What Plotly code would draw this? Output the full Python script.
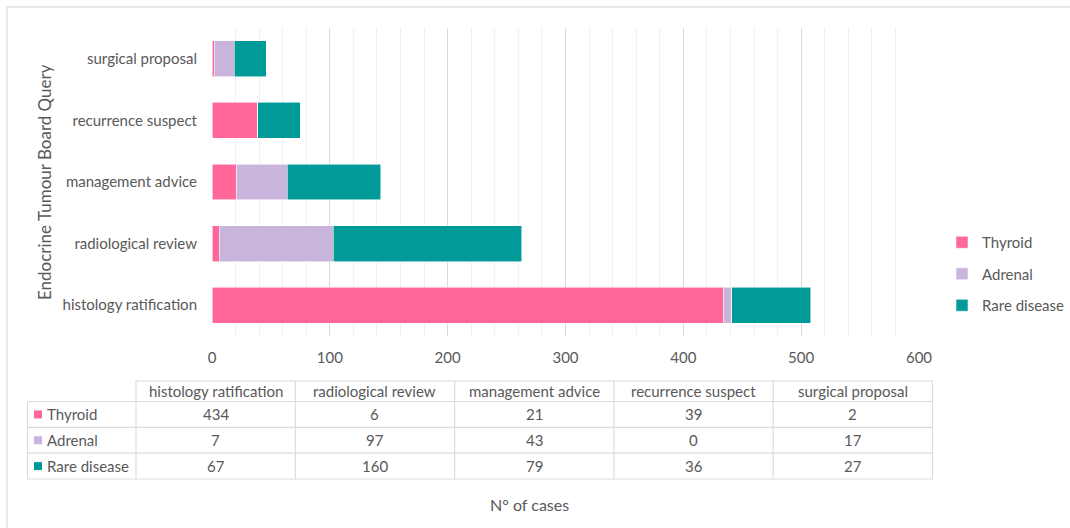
import plotly.graph_objects as go

categories = ["histology ratification", "radiological review", "management advice",
              "recurrence suspect", "surgical proposal"]
series_names = ["Thyroid", "Adrenal", "Rare disease"]
thyroid = [434, 6, 21, 39, 2]
adrenal = [7, 97, 43, 0, 17]
rare_disease = [67, 160, 79, 36, 27]
x_ticks = [0, 100, 200, 300, 400, 500, 600]
colors = ["#ff6699", "#c9b5db", "#009a98"]

W, H = 1070, 528
L, R, T, B = 212, 151, 28, 192
PW, PH = W - L - R, H - T - B
FONT = "Lato"
GRAY = "#595959"
FS = 15

def px(xp):
    return (xp - L) / PW

def py(yp):
    return 1 - (yp - T) / PH

fig = go.Figure()
for name, vals, col in zip(series_names, [thyroid, adrenal, rare_disease], colors):
    fig.add_trace(go.Bar(
        y=categories, x=vals, name=name, orientation="h",
        marker=dict(color=col, line=dict(color="rgba(255,255,255,0.7)", width=0.8)),
        legendgroup=name,
    ))

shapes = []
annotations = []

# outer chart border
shapes.append(dict(type="rect", xref="paper", yref="paper",
                   x0=px(7), x1=px(1080), y0=py(7), y1=py(540),
                   line=dict(color="#e2e2e2", width=1.5), fillcolor="rgba(0,0,0,0)", layer="below"))

# data table
col_edges = [27.5, 136, 295.3, 454.6, 613.9, 773.2, 932.5]
row_edges = [381, 401.5, 427.3, 453.2, 479]
tcol = "#dcdcdc"
for i, yv in enumerate(row_edges):
    x0 = col_edges[1] if i == 0 else col_edges[0]
    shapes.append(dict(type="line", xref="paper", yref="paper",
                       x0=px(x0), x1=px(col_edges[-1]), y0=py(yv), y1=py(yv),
                       line=dict(color=tcol, width=1.2)))
for j, xv in enumerate(col_edges):
    y0 = row_edges[1] if j == 0 else row_edges[0]
    shapes.append(dict(type="line", xref="paper", yref="paper",
                       x0=px(xv), x1=px(xv), y0=py(y0), y1=py(row_edges[-1]),
                       line=dict(color=tcol, width=1.2)))

for j, cat in enumerate(categories):
    cx = (col_edges[j + 1] + col_edges[j + 2]) / 2
    cy = (row_edges[0] + row_edges[1]) / 2
    annotations.append(dict(xref="paper", yref="paper", x=px(cx), y=py(cy), text=cat,
                            showarrow=False, xanchor="center", yanchor="middle",
                            font=dict(family=FONT, size=FS, color=GRAY)))
for i, (name, vals, col) in enumerate(zip(series_names, [thyroid, adrenal, rare_disease], colors)):
    cy = (row_edges[i + 1] + row_edges[i + 2]) / 2
    shapes.append(dict(type="rect", xref="paper", yref="paper",
                       x0=px(34), x1=px(42), y0=py(cy - 4), y1=py(cy + 4),
                       fillcolor=col, line=dict(width=0)))
    annotations.append(dict(xref="paper", yref="paper", x=px(45), y=py(cy), text=name,
                            showarrow=False, xanchor="left", yanchor="middle",
                            font=dict(family=FONT, size=FS, color=GRAY)))
    for j, v in enumerate(vals):
        cx = (col_edges[j + 1] + col_edges[j + 2]) / 2
        annotations.append(dict(xref="paper", yref="paper", x=px(cx), y=py(cy), text=str(v),
                                showarrow=False, xanchor="center", yanchor="middle",
                                font=dict(family=FONT, size=FS, color=GRAY)))

annotations.append(dict(xref="paper", yref="paper", x=px(44), y=py(182),
                        text="Endocrine Tumour Board Query", textangle=-90, showarrow=False,
                        xanchor="center", yanchor="middle",
                        font=dict(family=FONT, size=17, color=GRAY)))
annotations.append(dict(xref="paper", yref="paper", x=px(529), y=py(504),
                        text="N° of cases", showarrow=False,
                        xanchor="center", yanchor="middle",
                        font=dict(family=FONT, size=16, color=GRAY)))

fig.update_layout(
    width=W, height=H,
    margin=dict(l=L, r=R, t=T, b=B, autoexpand=False),
    barmode="stack", bargap=0.416,
    paper_bgcolor="white", plot_bgcolor="white",
    font=dict(family=FONT, size=FS, color=GRAY),
    showlegend=True,
    legend=dict(x=px(942), y=py(226), xanchor="left", yanchor="top",
                traceorder="grouped", tracegroupgap=9,
                font=dict(family=FONT, size=FS, color=GRAY),
                bgcolor="rgba(0,0,0,0)"),
    xaxis=dict(range=[0, 600], tickvals=x_ticks, showgrid=True, gridcolor="#d9d9d9", gridwidth=1,
               minor=dict(dtick=20, showgrid=True, gridcolor="#f0f0f0", gridwidth=1),
               zeroline=False, showline=False, ticks="", ticklabelstandoff=11,
               tickfont=dict(family=FONT, size=FS, color=GRAY), fixedrange=True),
    yaxis=dict(showgrid=False, zeroline=False, showline=False, ticks="",
               ticklabelstandoff=14, categoryorder="array", categoryarray=categories,
               tickfont=dict(family=FONT, size=FS, color=GRAY), fixedrange=True),
    shapes=shapes, annotations=annotations,
)

fig.write_html("out.html", config={"displayModeBar": False})
